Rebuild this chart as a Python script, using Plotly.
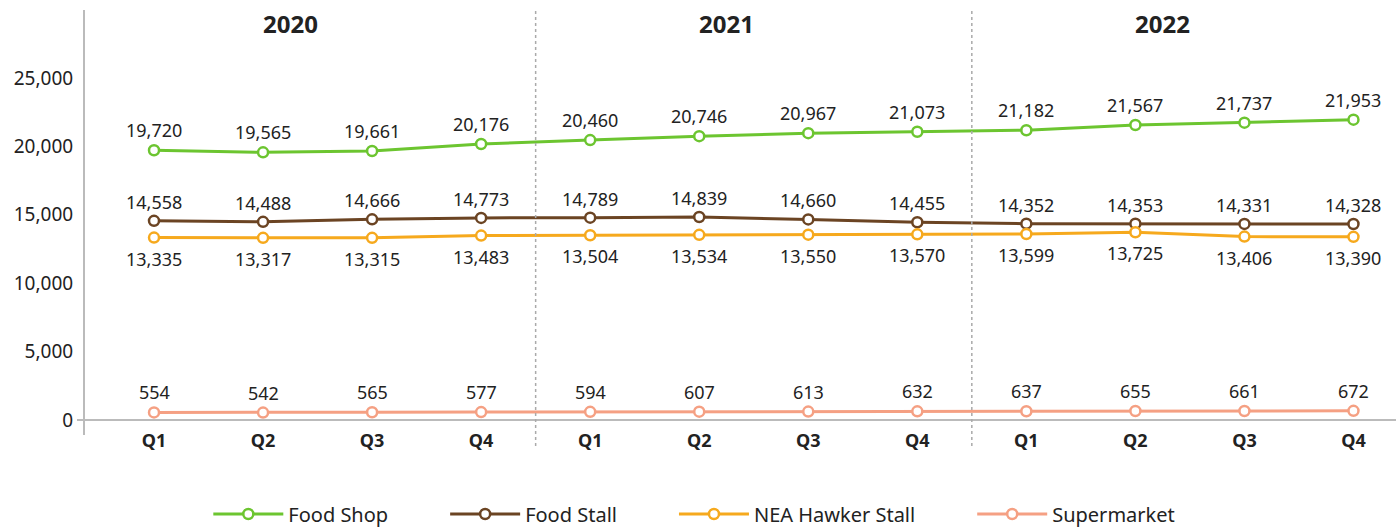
import plotly.graph_objects as go

quarters = ["Q1", "Q2", "Q3", "Q4"] * 3
years = ["2020", "2021", "2022"]
food_shop = [19720, 19565, 19661, 20176, 20460, 20746, 20967, 21073, 21182, 21567, 21737, 21953]
food_stall = [14558, 14488, 14666, 14773, 14789, 14839, 14660, 14455, 14352, 14353, 14331, 14328]
nea_hawker = [13335, 13317, 13315, 13483, 13504, 13534, 13550, 13570, 13599, 13725, 13406, 13390]
supermarket = [554, 542, 565, 577, 594, 607, 613, 632, 637, 655, 661, 672]

# (name, values, colour, label shift in px: + above, - below)
series = [
    ("Food Shop", food_shop, "#6cc530", 20),
    ("Food Stall", food_stall, "#6b4423", 19),
    ("NEA Hawker Stall", nea_hawker, "#f6a91d", -21),
    ("Supermarket", supermarket, "#f5a083", 20),
]

W, H = 1397, 529
ML, MR, MT, MB = 84, 1, 10, 60
plot_bottom_px = 428
zero_px = 420
px_per_5000 = 68.4
plot_h = H - MT - MB
dom_bottom = (H - MB - plot_bottom_px) / plot_h

def py(px):
    return (H - MB - px) / plot_h

x = list(range(len(quarters)))
fig = go.Figure()
for i, (name, vals, color, shift) in enumerate(series):
    pad = "" if i == len(series) - 1 else "\u00a0" * 10
    fig.add_trace(go.Scatter(
        x=x, y=vals, name=name + pad, mode="lines+markers",
        line=dict(color=color, width=3),
        marker=dict(symbol="circle", size=10, color="white", line=dict(color=color, width=2.5)),
        cliponaxis=False,
    ))
    for xi, v in zip(x, vals):
        fig.add_annotation(x=xi, y=v, xref="x", yref="y", text=f"{v:,}", showarrow=False,
                           yshift=shift, yanchor="middle",
                           font=dict(size=18, color="#222222"))

# y axis line (extends slightly below the zero line)
fig.add_shape(type="line", xref="paper", yref="paper", x0=0, x1=0, y0=py(435), y1=py(10),
              line=dict(color="#bbbbbb", width=2))

# dividers between years
for xv in [3.5, 7.5]:
    fig.add_shape(type="line", xref="x", yref="paper", x0=xv, x1=xv, y0=py(446), y1=py(10),
                  line=dict(color="#aaaaaa", width=1.5, dash="dot"))

# short tick for zero line left of axis
fig.add_shape(type="line", xref="paper", yref="y", x0=-7 / (W - ML - MR), x1=0, y0=0, y1=0,
              line=dict(color="#bbbbbb", width=2))

for i, yr in enumerate(years):
    fig.add_annotation(x=1.25 + 4 * i, y=py(23), xref="x", yref="paper", text=f"<b>{yr}</b>",
                       showarrow=False, font=dict(size=24, color="#222222"), yanchor="middle")

fig.update_layout(
    width=W, height=H,
    margin=dict(l=ML, r=MR, t=MT, b=MB),
    plot_bgcolor="white", paper_bgcolor="white",
    font=dict(family="Noto Sans, Open Sans, sans-serif", color="#222222"),
    showlegend=True,
    legend=dict(orientation="h", xref="container", x=0.497, xanchor="center",
                yref="container", y=(H - 514) / H, yanchor="middle",
                font=dict(size=20, color="#222222"), traceorder="normal", itemwidth=70),
)
fig.update_xaxes(
    tickmode="array", tickvals=x, ticktext=[f"<b>{q}</b>" for q in quarters],
    range=[-0.642, 11.39], showgrid=False, zeroline=False, showline=False,
    tickfont=dict(size=18, color="#222222"), ticks="", automargin=False,
)
fig.update_yaxes(
    domain=[dom_bottom, 1],
    range=[-(plot_bottom_px - zero_px) / px_per_5000 * 5000, (zero_px - MT) / px_per_5000 * 5000],
    tickvals=[0, 5000, 10000, 15000, 20000, 25000], tickformat=",",
    showgrid=False, zeroline=True, zerolinecolor="#bbbbbb", zerolinewidth=2,
    showline=False,
    tickfont=dict(size=19, color="#222222"), ticks="outside", ticklen=6,
    tickcolor="rgba(0,0,0,0)", automargin=False,
)

fig.write_html("out.html", config={"displayModeBar": False},
               post_script="document.body.style.margin='0px';document.body.style.overflow='hidden';")
